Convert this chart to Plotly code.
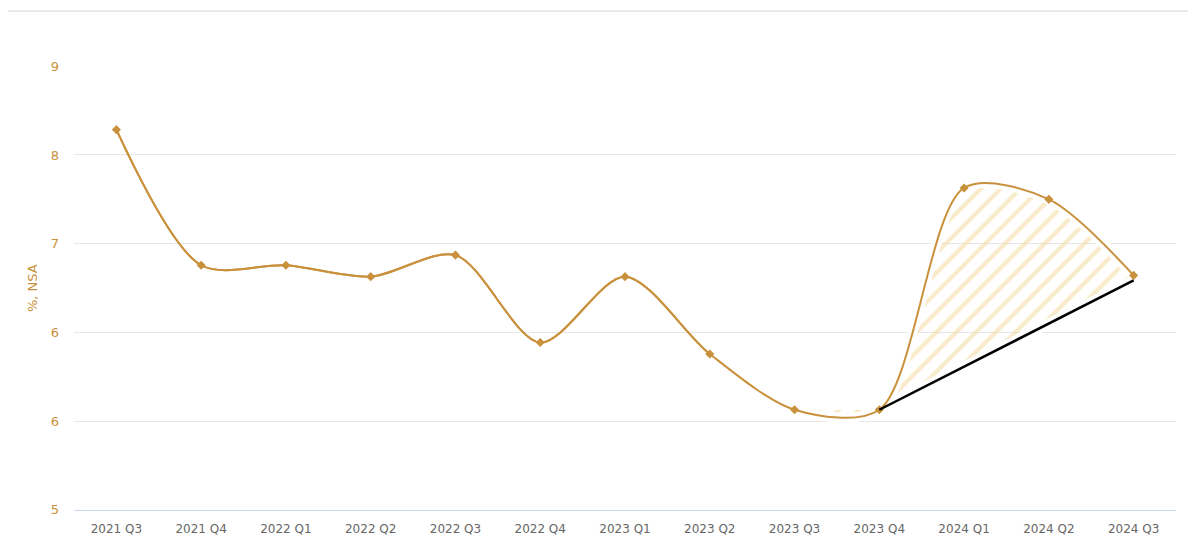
import plotly.graph_objects as go

# ---- data ----
quarters = ["2021 Q3", "2021 Q4", "2022 Q1", "2022 Q2", "2022 Q3", "2022 Q4",
            "2023 Q1", "2023 Q2", "2023 Q3", "2023 Q4", "2024 Q1", "2024 Q2", "2024 Q3"]
rate = [8.0, 6.93, 6.93, 6.84, 7.01, 6.32, 6.84, 6.23, 5.79, 5.79, 7.54, 7.45, 6.85]

trend_x = ["2023 Q4", "2024 Q3"]
trend_y = [5.79, 6.81]

y_tickvals = [5.0, 5.7, 6.4, 7.1, 7.8, 8.5]
y_ticktext = ["5", "6", "6", "7", "8", "9"]

# ---- styles ----
GOLD = "#c9913c"
HATCH = "#f3d896"
SMOOTH = 0.85
FONT = "DejaVu Sans"
HALO = 10

fig = go.Figure()

# main curve (first, so category order is set by it)
fig.add_trace(go.Scatter(
    x=quarters, y=rate, mode="lines",
    line=dict(color=GOLD, width=2, shape="spline", smoothing=SMOOTH),
    showlegend=False, hoverinfo="skip"))

# invisible base for the hatched area (trend line)
fig.add_trace(go.Scatter(
    x=trend_x, y=trend_y, mode="lines",
    line=dict(width=0, color="rgba(0,0,0,0)"),
    showlegend=False, hoverinfo="skip"))

# hatched area between trend and curve
fig.add_trace(go.Scatter(
    x=quarters[8:], y=rate[8:], mode="lines",
    line=dict(width=0, shape="spline", smoothing=SMOOTH, color="rgba(0,0,0,0)"),
    fill="tonexty", fillcolor="rgba(0,0,0,0)",
    fillpattern=dict(shape="/", fgcolor=HATCH, bgcolor="rgba(0,0,0,0)",
                     size=14, solidity=0.3),
    showlegend=False, hoverinfo="skip"))

# white margins keeping the hatching inset from its borders
fig.add_trace(go.Scatter(
    x=quarters[7:], y=rate[7:], mode="lines",
    line=dict(color="white", width=HALO, shape="spline", smoothing=SMOOTH),
    showlegend=False, hoverinfo="skip"))
fig.add_trace(go.Scatter(
    x=trend_x, y=trend_y, mode="lines",
    line=dict(color="white", width=HALO),
    showlegend=False, hoverinfo="skip"))

# main curve on top of the hatching
fig.add_trace(go.Scatter(
    x=quarters, y=rate, mode="lines+markers",
    line=dict(color=GOLD, width=2, shape="spline", smoothing=SMOOTH),
    marker=dict(symbol="diamond", size=7, color=GOLD),
    showlegend=False))

# black trend line
fig.add_trace(go.Scatter(
    x=trend_x, y=trend_y, mode="lines",
    line=dict(color="black", width=2.5),
    showlegend=False, hoverinfo="skip"))

fig.update_layout(
    width=1184, height=544, autosize=False,
    margin=dict(l=66, r=16, t=58, b=42),
    paper_bgcolor="white", plot_bgcolor="white",
    font=dict(family=FONT, size=12),
    showlegend=False,
    xaxis=dict(
        type="category", categoryorder="array", categoryarray=quarters,
        range=[-0.5, 12.5],
        showgrid=False, zeroline=False,
        showline=True, linecolor="#ccd6eb", linewidth=1,
        ticks="", tickfont=dict(family=FONT, size=12, color="#666666"),
        ticklabelstandoff=8,
    ),
    yaxis=dict(
        range=[4.999, 8.502],
        tickmode="array", tickvals=y_tickvals, ticktext=y_ticktext,
        showgrid=True, gridcolor="#e6e6e6", gridwidth=1,
        zeroline=False, showline=False,
        ticks="", tickfont=dict(family=FONT, size=13, color=GOLD),
        ticklabelstandoff=14,
    ),
    annotations=[dict(
        text="%, NSA", xref="paper", yref="paper",
        x=-0.038, y=0.5, xanchor="center", yanchor="middle",
        textangle=-90, showarrow=False,
        font=dict(family=FONT, size=13, color=GOLD))],
    shapes=[dict(
        type="line", xref="paper", yref="paper",
        x0=-0.06, x1=1.011, y0=1.124, y1=1.124,
        line=dict(color="#e3e3e3", width=1.5))],
)

fig.write_html("out.html")
